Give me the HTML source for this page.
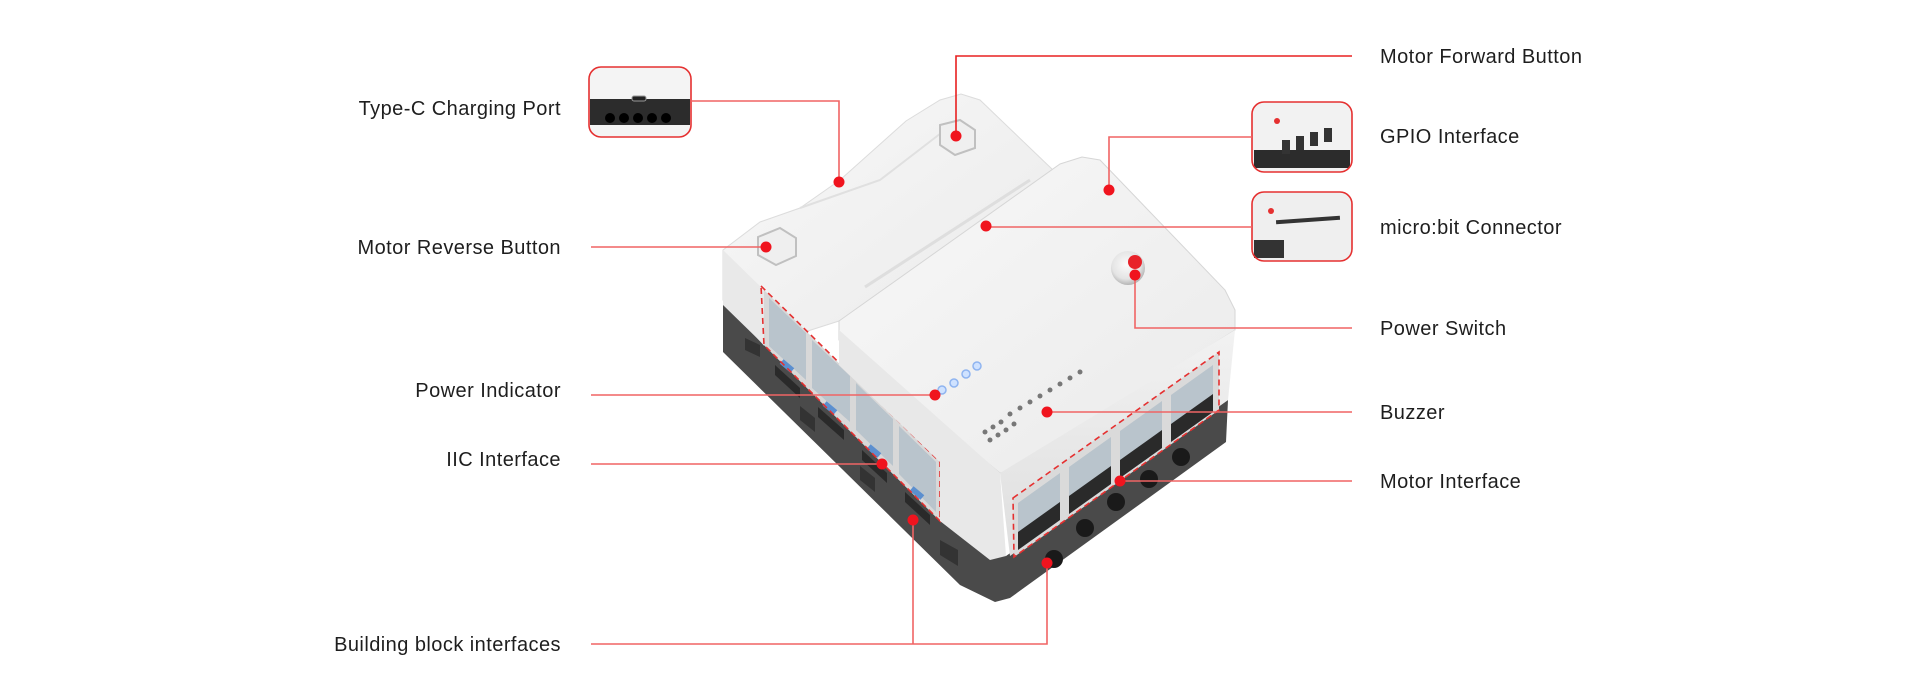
<!DOCTYPE html>
<html><head><meta charset="utf-8"><style>
html,body{margin:0;padding:0;background:#fff;width:1920px;height:700px;overflow:hidden}
svg{display:block}
text{font-family:"Liberation Sans",sans-serif;font-size:20px;letter-spacing:0.45px;fill:#1e1e1e}
</style></head><body>
<svg width="1920" height="700" viewBox="0 0 1920 700" xmlns="http://www.w3.org/2000/svg">
<defs>
<linearGradient id="wt" x1="0" y1="0" x2="1" y2="1"><stop offset="0" stop-color="#f8f8f8"/><stop offset="1" stop-color="#eaeaea"/></linearGradient>
<linearGradient id="wf" x1="0" y1="0" x2="0" y2="1"><stop offset="0" stop-color="#f2f2f2"/><stop offset="1" stop-color="#dedede"/></linearGradient>
<radialGradient id="btn" cx="0.45" cy="0.4" r="0.6"><stop offset="0" stop-color="#fbfbfb"/><stop offset="0.7" stop-color="#e4e4e4"/><stop offset="1" stop-color="#b5b5b5"/></radialGradient>
</defs>

<!-- dark base -->
<polygon points="723,300 764,345 940,521 1006,556 1228,400 1226,442 1010,598 995,602 960,585 723,352" fill="#4a4a4a"/>
<g fill="#333"><polygon points="745,350 760,357 760,345 745,338"/><polygon points="940,555 958,566 958,550 940,540"/><polygon points="800,420 815,432 815,418 800,406"/><polygon points="860,480 875,492 875,478 860,466"/></g>

<!-- back block -->
<polygon points="723,250 760,222 800,208 840,180 906,121 940,100 961,94 980,100 1054,171 900,290 839,321 764,345 723,300" fill="url(#wt)" stroke="#dcdcdc" stroke-width="1"/>
<polygon points="723,250 764,290 764,345 723,305" fill="#e9e9e9"/>
<path d="M800,208 L880,180 L945,130" fill="none" stroke="#e0e0e0" stroke-width="2"/>

<!-- IIC ports -->
<g>
<polygon points="764,290 940,462 940,521 764,345" fill="#d8d8d8"/>
<polygon points="769,298 806,333 806,380 769,346" fill="#b9c4cc"/>
<polygon points="812,340 850,376 850,422 812,388" fill="#b9c4cc"/>
<polygon points="856,383 893,419 893,466 856,430" fill="#b9c4cc"/>
<polygon points="899,426 936,462 936,512 899,474" fill="#b9c4cc"/>
<polygon points="775,365 800,388 800,398 775,375" fill="#2a2a2a"/>
<polygon points="818,407 844,430 844,440 818,417" fill="#2a2a2a"/>
<polygon points="862,450 887,473 887,483 862,460" fill="#2a2a2a"/>
<polygon points="905,492 930,515 930,525 905,502" fill="#2a2a2a"/>
<rect x="780" y="363" width="14" height="6" fill="#5b8fcf" transform="rotate(40 787 366)"/>
<rect x="823" y="405" width="14" height="6" fill="#5b8fcf" transform="rotate(40 830 408)"/>
<rect x="867" y="448" width="14" height="6" fill="#5b8fcf" transform="rotate(40 874 451)"/>
<rect x="910" y="490" width="14" height="6" fill="#5b8fcf" transform="rotate(40 917 493)"/>
</g>
<polygon points="761,286 940,462 940,521 764,345" fill="none" stroke="#e53030" stroke-width="1.6" stroke-dasharray="6,4"/>

<!-- front module -->
<polygon points="839,321 1060,164 1082,157 1100,160 1225,290 1235,310 1235,330 1015,470 1000,473 839,340" fill="url(#wt)" stroke="#d6d6d6" stroke-width="1"/>
<polygon points="839,330 1000,473 1006,556 990,560 940,521 940,462 839,365" fill="#e8e8e8"/>
<polygon points="1000,473 1235,330 1228,400 1010,556" fill="url(#wf)"/>
<path d="M865,287 L1030,180" stroke="#dedede" stroke-width="3"/>
<!-- motor ports -->
<polygon points="1013,498 1219,352 1219,410 1014,557" fill="#dadada"/>
<polygon points="1018,503 1060,473 1060,520 1018,550" fill="#b9c4cc"/>
<polygon points="1069,467 1111,437 1111,484 1069,514" fill="#b9c4cc"/>
<polygon points="1120,431 1162,401 1162,448 1120,478" fill="#b9c4cc"/>
<polygon points="1171,395 1213,365 1213,412 1171,442" fill="#b9c4cc"/>
<polygon points="1018,532 1060,502 1060,520 1018,550" fill="#2a2a2a"/>
<polygon points="1069,496 1111,466 1111,484 1069,514" fill="#2a2a2a"/>
<polygon points="1120,460 1162,430 1162,448 1120,478" fill="#2a2a2a"/>
<polygon points="1171,424 1213,394 1213,412 1171,442" fill="#2a2a2a"/>
<g fill="#1a1a1a"><circle cx="1054" cy="559" r="9"/><circle cx="1085" cy="528" r="9"/><circle cx="1116" cy="502" r="9"/><circle cx="1149" cy="479" r="9"/><circle cx="1181" cy="457" r="9"/></g>
<polygon points="1013,498 1219,352 1219,410 1014,557" fill="none" stroke="#e53030" stroke-width="1.6" stroke-dasharray="6,4"/>

<!-- hex buttons -->
<polygon points="940,125 960,120 975,130 975,148 955,155 940,145" fill="#efefef" stroke="#c0c0c0" stroke-width="2"/>
<polygon points="758,237 780,228 796,238 796,256 776,265 758,255" fill="#efefef" stroke="#c0c0c0" stroke-width="2"/>
<!-- power button -->
<circle cx="1128" cy="268" r="17" fill="url(#btn)"/>
<circle cx="1135" cy="262" r="7" fill="#e8222a"/>
<!-- LEDs -->
<g fill="#cfe2ff" stroke="#8fb4f0" stroke-width="1.5"><circle cx="942" cy="390" r="4"/><circle cx="954" cy="383" r="4"/><circle cx="966" cy="374" r="4"/><circle cx="977" cy="366" r="4"/></g>
<!-- buzzer -->
<g fill="#777"><circle cx="985" cy="432" r="2.5"/><circle cx="993" cy="427" r="2.5"/><circle cx="1001" cy="422" r="2.5"/><circle cx="990" cy="440" r="2.5"/><circle cx="998" cy="435" r="2.5"/><circle cx="1006" cy="430" r="2.5"/><circle cx="1014" cy="424" r="2.5"/><circle cx="1010" cy="414" r="2.5"/><circle cx="1020" cy="408" r="2.5"/><circle cx="1030" cy="402" r="2.5"/><circle cx="1040" cy="396" r="2.5"/><circle cx="1050" cy="390" r="2.5"/><circle cx="1060" cy="384" r="2.5"/><circle cx="1070" cy="378" r="2.5"/><circle cx="1080" cy="372" r="2.5"/></g>

<!-- thumbnails -->
<rect x="589" y="67" width="102" height="70" rx="12" fill="#f4f4f4"/>
<rect x="590" y="99" width="100" height="26" fill="#2c2c2c"/>
<rect x="632" y="96" width="14" height="5" rx="2" fill="#222" stroke="#999"/>
<g fill="#000"><circle cx="610" cy="118" r="5"/><circle cx="624" cy="118" r="5"/><circle cx="638" cy="118" r="5"/><circle cx="652" cy="118" r="5"/><circle cx="666" cy="118" r="5"/></g>
<rect x="589" y="67" width="102" height="70" rx="12" fill="none" stroke="#e53030" stroke-width="1.6"/>

<rect x="1252" y="102" width="100" height="70" rx="12" fill="#f2f2f2"/>
<rect x="1254" y="150" width="96" height="18" fill="#2c2c2c"/>
<g fill="#333"><rect x="1282" y="140" width="8" height="14"/><rect x="1296" y="136" width="8" height="14"/><rect x="1310" y="132" width="8" height="14"/><rect x="1324" y="128" width="8" height="14"/></g>
<circle cx="1277" cy="121" r="3" fill="#e53030"/>
<rect x="1252" y="102" width="100" height="70" rx="12" fill="none" stroke="#e53030" stroke-width="1.6"/>

<rect x="1252" y="192" width="100" height="69" rx="12" fill="#efefef"/>
<rect x="1276" y="218" width="64" height="4" fill="#333" transform="rotate(-4 1308 220)"/>
<rect x="1254" y="240" width="30" height="18" fill="#333"/>
<circle cx="1271" cy="211" r="3" fill="#e53030"/>
<rect x="1252" y="192" width="100" height="69" rx="12" fill="none" stroke="#e53030" stroke-width="1.6"/>

<!-- connectors -->
<g fill="none" stroke="#f06464" stroke-width="1.6">
<polyline points="691,101 839,101 839,182"/>
<polyline points="591,247 766,247"/>
<polyline points="591,395 935,395"/>
<polyline points="591,464 882,464"/>
<polyline points="591,644 1047,644 1047,563"/>
<polyline points="913,644 913,520"/>
<polyline points="1352,56 956,56 956,136" stroke="#e82020"/>
<polyline points="1252,137 1109,137 1109,190"/>
<polyline points="1252,227 986,227"/>
<polyline points="1352,328 1135,328 1135,275"/>
<polyline points="1352,412 1047,412"/>
<polyline points="1352,481 1120,481"/>
</g>
<g fill="#f0141e">
<circle cx="839" cy="182" r="5.5"/><circle cx="766" cy="247" r="5.5"/><circle cx="935" cy="395" r="5.5"/><circle cx="882" cy="464" r="5.5"/>
<circle cx="913" cy="520" r="5.5"/><circle cx="1047" cy="563" r="5.5"/><circle cx="956" cy="136" r="5.5"/><circle cx="1109" cy="190" r="5.5"/>
<circle cx="986" cy="226" r="5.5"/><circle cx="1135" cy="275" r="5.5"/><circle cx="1047" cy="412" r="5.5"/><circle cx="1120" cy="481" r="5.5"/>
</g>

<!-- labels -->
<g text-anchor="end">
<text x="561" y="115">Type-C Charging Port</text>
<text x="561" y="254">Motor Reverse Button</text>
<text x="561" y="397">Power Indicator</text>
<text x="561" y="466">IIC Interface</text>
<text x="561" y="651">Building block interfaces</text>
</g>
<text x="1380" y="63">Motor Forward Button</text>
<text x="1380" y="143">GPIO Interface</text>
<text x="1380" y="234">micro:bit Connector</text>
<text x="1380" y="335">Power Switch</text>
<text x="1380" y="419">Buzzer</text>
<text x="1380" y="488">Motor Interface</text>
</svg>
</body></html>
